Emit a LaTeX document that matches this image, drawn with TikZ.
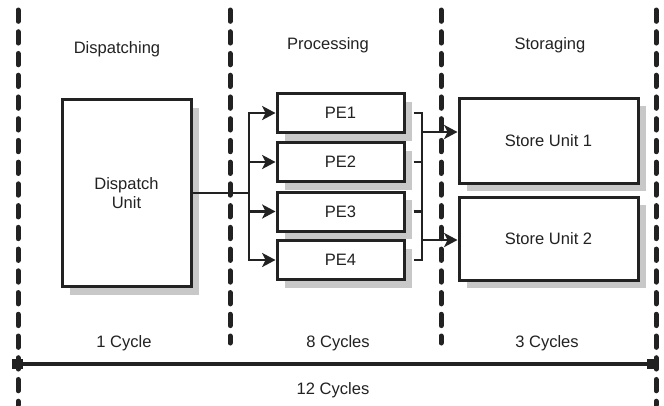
\documentclass[tikz,border=0pt]{standalone}
\usepackage{fontspec}
\setmainfont{Liberation Sans}
\usetikzlibrary{arrows.meta,shadows}
\definecolor{ink}{HTML}{222222}
\definecolor{shade}{HTML}{C8C8C8}
\begin{document}
\begin{tikzpicture}[x=0.75pt,y=-0.75pt,
  font=\fontsize{12.4}{14.5}\selectfont, text=ink,
  unitbox/.style={draw=ink, line width=2.25pt, fill=white, align=center, inner sep=0pt,
    drop shadow={shadow xshift=6pt, shadow yshift=-6pt, fill=shade, opacity=1}},
  pebox/.style={unitbox, minimum width=95.25pt, minimum height=29.25pt},
  storebox/.style={unitbox, minimum width=134.25pt},
  phase/.style={draw=ink, line width=3.75pt, line cap=round, dash pattern=on 8.5pt off 7.8pt},
  wire/.style={draw=ink, line width=2pt, line cap=rect},
  feed/.style={draw=ink, line width=2pt, -{Stealth[length=10pt,width=10.5pt,inset=2.5pt]}},
  timeline/.style={draw=ink, line width=2.4pt, {Square[length=8pt,width=8pt]}-{Square[length=8pt,width=8pt]}}]
\useasboundingbox[fill=white] (0,0) rectangle (664,405);

% phase separators
\coordinate (s0t) at (18,10);  \coordinate (s0b) at (18,405);
\coordinate (s1t) at (230,10); \coordinate (s1b) at (230,343);
\coordinate (s2t) at (441,10); \coordinate (s2b) at (441,343);
\coordinate (s3t) at (656,10); \coordinate (s3b) at (656,405);
\foreach \s in {s0,s1,s2,s3} \draw[phase] (\s t) -- (\s b);

% phase titles
\node (hd1) at (117,49) {Dispatching};
\node (hd2) at (328,45) {Processing};
\node (hd3) at (550,45) {Storaging};

% units
\node[unitbox, minimum width=96.75pt, minimum height=140.25pt] (disp) at (126.5,193) {Dispatch\\Unit};
\node[pebox] (pe1) at (340.5,113) {PE1};
\node[pebox] (pe2) at (340.5,162) {PE2};
\node[pebox] (pe3) at (340.5,211.5) {PE3};
\node[pebox] (pe4) at (340.5,260) {PE4};
\node[storebox, minimum height=63.75pt] (su1) at (548.5,140.5) {Store Unit 1};
\node[storebox, minimum height=62.25pt] (su2) at (548.5,238.5) {Store Unit 2};

% dispatch fan-out
\coordinate (split) at (249,193);
\draw[wire] (disp.east) -- (split);
\draw[wire] (split |- pe1) -- (split |- pe4);
\foreach \p in {pe1,pe2,pe3,pe4} \draw[feed] (split |- \p) -- (\p.west);

% collection into the store units
\coordinate (merge1) at (422,132);
\coordinate (merge2) at (422,240);
\draw[wire, line cap=butt] ([xshift=6pt]pe1.east) -- (merge1 |- pe1) -- (merge1 |- pe4) -- ([xshift=6pt]pe4.east);
\draw[wire, line cap=butt] ([xshift=6pt]pe2.east) -- (merge1 |- pe2);
\draw[wire, line cap=butt] ([xshift=6pt]pe3.east) -- (merge1 |- pe3);
\draw[feed] (merge1) -- (su1.west |- merge1);
\draw[feed] (merge2) -- (su2.west |- merge2);

% cycle counts
\node (c1) at (124,343) {1 Cycle};
\node (c2) at (338,343) {8 Cycles};
\node (c3) at (547,343) {3 Cycles};
\coordinate (tl) at (12,364);
\coordinate (tr) at (658,364);
\draw[timeline] (tl) -- (tr);
\node (c4) at (333,390) {12 Cycles};
\end{tikzpicture}
\end{document}
